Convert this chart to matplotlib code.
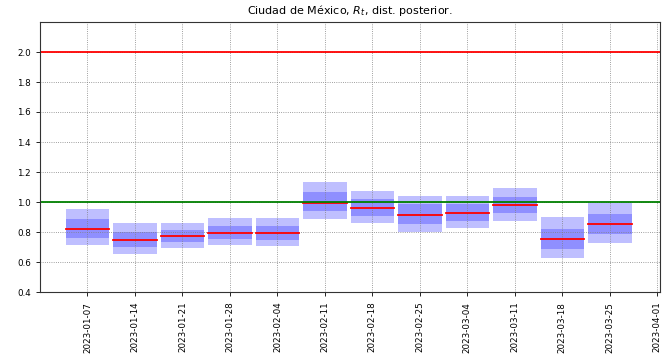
import numpy as np
import pandas as pd
import matplotlib
matplotlib.use('Agg')
import matplotlib.pyplot as plt
import matplotlib.dates as mdates

# weekly posterior summaries of R_t
weeks = ['2023-01-07', '2023-01-14', '2023-01-21', '2023-01-28', '2023-02-04',
         '2023-02-11', '2023-02-18', '2023-02-25', '2023-03-04', '2023-03-11',
         '2023-03-18', '2023-03-25']
q05 = [0.711, 0.653, 0.696, 0.711, 0.705, 0.885, 0.862, 0.802, 0.829, 0.875, 0.629, 0.727]
q25 = [0.762, 0.698, 0.733, 0.753, 0.747, 0.940, 0.907, 0.855, 0.875, 0.929, 0.687, 0.787]
q50 = [0.822, 0.747, 0.773, 0.795, 0.793, 0.996, 0.958, 0.916, 0.929, 0.980, 0.751, 0.851]
q75 = [0.885, 0.802, 0.813, 0.840, 0.840, 1.065, 1.018, 0.985, 0.985, 1.033, 0.820, 0.920]
q95 = [0.953, 0.858, 0.858, 0.891, 0.891, 1.131, 1.075, 1.042, 1.042, 1.093, 0.898, 0.995]

tick_dates = weeks + ['2023-04-01']

dates = pd.to_datetime(weeks)
half = pd.Timedelta(days=3.2)

fig = plt.figure(figsize=(6.68, 3.56), dpi=100)
ax = fig.add_axes([40 / 668, 1 - 292 / 356, 620 / 668, 270 / 356])

for d, a, b, c, e, m in zip(dates, q05, q25, q75, q95, q50):
    x0, x1 = mdates.date2num(d - half), mdates.date2num(d + half)
    ax.fill_between([x0, x1], a, e, color='blue', alpha=0.25, lw=0)
    ax.fill_between([x0, x1], b, c, color='blue', alpha=0.25, lw=0)
    ax.plot([x0, x1], [m, m], color='red', lw=1.3)

ax.axhline(2.0, color='red', lw=1.3)
ax.axhline(1.0, color='green', lw=1.3)

ax.set_ylim(0.4, 2.2)
ax.set_yticks(np.arange(0.4, 2.01, 0.2))
ax.set_xlim(mdates.date2num(pd.Timestamp('2022-12-31')),
            mdates.date2num(pd.Timestamp('2023-04-01') + pd.Timedelta(days=0.4)))
ax.set_xticks(mdates.date2num(pd.to_datetime(tick_dates)))
ax.set_xticklabels(tick_dates, rotation=90)
ax.tick_params(labelsize=6.3, length=3, width=0.6)
ax.tick_params(axis='x', pad=4)
ax.grid(True, ls=':', color='gray', lw=0.6)
for s in ax.spines.values():
    s.set_linewidth(0.8)
    s.set_color('#333333')

ax.set_title('Ciudad de México, $R_t$, dist. posterior.', fontsize=8)

fig.savefig('out.png', dpi=100)
